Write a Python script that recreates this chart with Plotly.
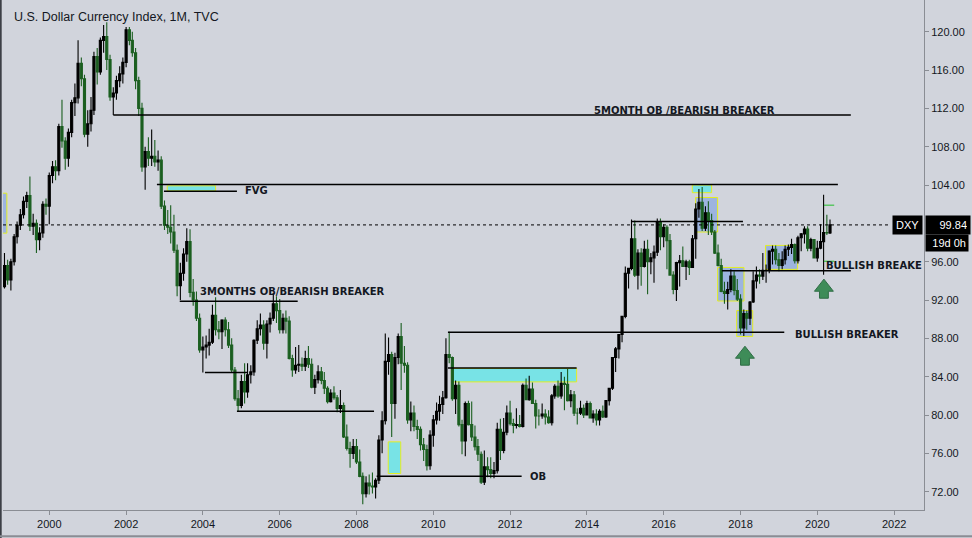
import pandas as pd
import plotly.graph_objects as go

# ---------------- DATA (monthly OHLC, Nov 1998 - May 2020) ----------------
opens = [
    93.4, 95.6,
    94.1, 96.0, 98.6, 99.8, 100.9, 102.3, 102.9, 99.7, 100.0, 98.3, 99.0, 102.0,
    101.8, 105.0, 105.9, 105.5, 110.1, 108.6, 106.8, 109.5, 112.6, 113.1, 116.7, 115.1,
    109.3, 110.4, 111.8, 117.4, 115.8, 119.1, 119.5, 117.1, 113.2, 113.6, 114.9, 115.6,
    116.8, 120.2, 119.1, 117.8, 114.9, 112.0, 105.9, 107.5, 106.8, 107.0, 106.4, 106.6,
    101.8, 99.8, 99.6, 99.1, 97.2, 93.5, 94.8, 96.8, 98.1, 92.8, 92.0, 90.1,
    86.8, 87.1, 87.3, 87.6, 90.4, 88.9, 88.7, 89.9, 88.9, 87.3, 84.7, 81.7,
    81.0, 83.5, 82.4, 84.2, 84.5, 87.8, 89.0, 89.4, 87.5, 89.5, 90.1, 91.6,
    90.9, 88.9, 90.1, 89.8, 85.9, 84.7, 85.2, 85.3, 85.1, 85.9, 85.3, 82.9,
    83.7, 84.5, 83.6, 82.8, 81.4, 82.3, 81.8, 80.7, 81.0, 77.7, 76.5, 76.0,
    76.7, 75.1, 73.6, 71.8, 72.9, 72.6, 72.5, 73.2, 77.4, 79.4, 85.6, 86.3,
    81.2, 86.0, 88.2, 85.4, 85.2, 79.5, 80.2, 78.8, 78.5, 76.9, 76.4, 74.7,
    77.9, 79.5, 80.4, 81.1, 81.8, 86.3, 86.0, 81.7, 83.1, 79.0, 77.3, 81.2,
    79.0, 77.7, 76.7, 75.9, 73.0, 74.6, 74.3, 73.9, 74.2, 78.5, 76.3, 78.2,
    80.2, 79.1, 78.9, 79.0, 78.8, 83.1, 81.6, 82.7, 81.2, 79.9, 79.9, 80.1,
    79.8, 79.2, 82.0, 83.0, 82.0, 83.3, 83.2, 81.5, 82.1, 80.2, 80.2, 80.7,
    80.0, 81.2, 79.7, 80.1, 79.5, 80.4, 79.8, 81.5, 82.8, 86.0, 86.9, 88.4,
    90.3, 94.8, 95.3, 98.4, 94.6, 96.9, 95.5, 97.3, 96.0, 96.4, 97.0, 100.2,
    98.6, 99.6, 98.2, 94.6, 93.1, 95.9, 96.1, 95.5, 96.0, 95.4, 98.4, 101.5,
    102.2, 99.5, 101.1, 100.3, 99.1, 96.9, 95.6, 92.9, 92.7, 93.1, 94.5, 93.0,
    92.1, 89.1, 90.6, 90.1, 91.8, 94.0, 94.6, 94.5, 95.1, 95.1, 97.1, 97.3,
    96.2, 95.6, 96.2, 97.3, 97.5, 97.8, 96.1, 98.5, 98.9, 99.4, 97.4, 98.3,
    96.4, 97.4, 98.1, 99.05, 99.0,
]
highs = [
    96.9, 96.2,
    96.3, 98.9, 100.2, 101.5, 102.8, 103.3, 104.9, 101.0, 100.4, 99.6, 102.3, 102.6,
    105.3, 106.5, 106.6, 110.4, 112.9, 109.0, 109.9, 112.9, 114.6, 119.1, 117.3, 115.5,
    111.8, 113.2, 117.9, 118.3, 119.4, 120.7, 121.0, 117.6, 114.2, 115.4, 116.4, 117.3,
    120.5, 120.5, 120.0, 118.3, 115.3, 112.6, 108.0, 109.0, 109.8, 108.7, 107.6, 107.0,
    102.4, 101.4, 101.9, 100.9, 97.8, 95.9, 97.4, 99.5, 99.4, 94.2, 92.9, 90.6,
    88.2, 88.3, 89.0, 91.5, 92.3, 89.8, 90.0, 90.2, 89.7, 88.0, 85.0, 82.6,
    84.2, 85.4, 85.4, 85.2, 87.9, 89.9, 90.6, 89.9, 89.9, 90.7, 92.7, 92.4,
    92.1, 90.6, 90.9, 90.3, 86.3, 87.1, 87.3, 86.0, 86.7, 87.2, 85.9, 84.2,
    85.2, 85.0, 84.5, 83.0, 82.7, 83.0, 82.1, 82.6, 81.3, 79.0, 77.2, 77.5,
    77.5, 76.4, 74.0, 73.6, 73.8, 74.0, 73.4, 77.9, 80.4, 88.5, 88.1, 86.6,
    86.5, 88.5, 89.6, 87.2, 85.5, 81.4, 81.0, 79.5, 78.8, 77.6, 76.9, 78.4,
    80.0, 81.3, 82.0, 82.5, 88.0, 88.7, 86.1, 83.6, 83.5, 79.5, 81.4, 81.5,
    81.4, 78.9, 77.5, 76.2, 76.3, 75.6, 75.6, 75.1, 79.2, 79.6, 79.7, 81.0,
    81.5, 79.6, 80.7, 80.0, 83.3, 83.8, 84.1, 83.4, 81.6, 80.6, 81.2, 80.6,
    80.5, 82.2, 83.2, 83.6, 84.5, 84.0, 84.8, 82.6, 82.5, 80.7, 81.5, 81.1,
    81.5, 81.4, 80.5, 80.6, 80.6, 81.0, 81.5, 82.8, 86.0, 87.1, 88.4, 90.3,
    95.5, 95.3, 100.4, 100.3, 97.3, 97.4, 98.2, 98.3, 96.9, 97.7, 100.5, 100.5,
    99.9, 99.8, 98.9, 95.0, 96.0, 96.7, 97.6, 96.2, 96.2, 98.8, 102.1, 103.6,
    103.8, 101.8, 102.3, 101.0, 99.3, 97.8, 96.3, 93.9, 93.9, 95.2, 95.0, 94.2,
    92.6, 91.0, 90.9, 91.9, 95.0, 95.5, 95.2, 96.9, 95.7, 97.2, 97.7, 97.7,
    96.9, 97.1, 97.7, 97.8, 98.4, 97.9, 98.7, 99.0, 99.7, 99.7, 98.5, 98.3,
    98.2, 99.9, 103.0, 100.9, 100.4,
]
lows = [
    93.2, 93.6,
    93.0, 95.6, 97.9, 99.3, 100.5, 101.6, 99.2, 98.8, 96.9, 97.2, 98.5, 100.9,
    99.9, 104.2, 104.5, 105.0, 107.9, 105.6, 105.9, 109.0, 111.2, 112.5, 114.3, 109.0,
    108.0, 109.6, 111.3, 114.5, 115.5, 117.8, 116.0, 112.8, 111.3, 112.9, 114.2, 114.6,
    116.3, 118.6, 117.4, 114.0, 111.2, 105.4, 103.5, 106.0, 106.0, 105.9, 105.5, 101.5,
    99.3, 98.9, 97.9, 96.9, 92.4, 92.0, 94.0, 96.0, 92.3, 91.4, 89.8, 86.5,
    84.45, 85.9, 86.2, 87.4, 88.3, 87.9, 86.9, 88.2, 87.0, 84.5, 81.5, 80.4,
    80.7, 81.2, 81.8, 83.3, 84.1, 87.4, 88.3, 86.8, 85.9, 88.6, 89.8, 89.6,
    88.5, 88.5, 88.5, 85.8, 84.0, 84.3, 84.5, 84.6, 84.6, 84.9, 82.8, 82.2,
    83.3, 83.2, 82.2, 81.2, 81.3, 81.6, 80.3, 80.2, 77.6, 76.3, 74.5, 75.4,
    74.9, 73.5, 70.7, 71.4, 71.7, 71.8, 71.3, 72.8, 76.0, 79.0, 84.2, 77.7,
    79.6, 85.3, 82.6, 84.4, 79.1, 78.3, 78.3, 77.5, 76.3, 75.2, 74.2, 74.3,
    76.7, 79.0, 79.4, 80.1, 81.7, 85.4, 81.5, 80.1, 78.8, 75.9, 75.7, 78.9,
    77.3, 76.3, 75.2, 72.8, 72.7, 73.5, 73.4, 73.4, 73.9, 75.3, 76.0, 77.9,
    78.9, 78.1, 78.6, 78.7, 78.7, 81.6, 81.5, 81.2, 78.6, 78.9, 79.6, 79.0,
    79.1, 78.9, 81.7, 81.8, 81.7, 80.5, 81.4, 80.8, 79.9, 79.0, 80.0, 79.7,
    80.0, 79.7, 79.2, 78.9, 78.9, 79.7, 79.7, 81.0, 82.6, 84.5, 85.9, 87.6,
    90.1, 93.2, 95.1, 94.4, 93.1, 93.5, 95.4, 92.6, 94.7, 93.8, 96.6, 97.2,
    97.5, 95.2, 94.6, 92.6, 91.9, 93.4, 95.5, 94.1, 94.6, 95.4, 96.3, 100.6,
    99.2, 99.2, 98.8, 98.8, 96.8, 95.5, 92.8, 91.6, 91.0, 92.8, 92.5, 91.9,
    88.4, 88.25, 88.9, 89.4, 91.7, 93.2, 93.7, 94.1, 93.8, 94.8, 95.7, 95.7,
    95.0, 95.2, 95.7, 96.6, 96.8, 95.8, 95.8, 97.1, 97.9, 97.1, 97.1, 96.4,
    96.0, 97.3, 94.65, 98.8, 98.9,
]
closes = [
    95.6, 94.1,
    96.0, 98.6, 99.8, 100.9, 102.3, 102.9, 99.7, 100.0, 98.3, 99.0, 102.0, 101.8,
    105.0, 105.9, 105.5, 110.1, 108.6, 106.8, 109.5, 112.6, 113.1, 116.7, 115.1, 109.3,
    110.4, 111.8, 117.4, 115.8, 119.1, 119.5, 117.1, 113.2, 113.6, 114.9, 115.6, 116.8,
    120.2, 119.1, 117.8, 114.9, 112.0, 105.9, 107.5, 106.8, 107.0, 106.4, 106.6, 101.8,
    99.8, 99.6, 99.1, 97.2, 93.5, 94.8, 96.8, 98.1, 92.8, 92.0, 90.1, 86.8,
    87.1, 87.3, 87.6, 90.4, 88.9, 88.7, 89.9, 88.9, 87.3, 84.7, 81.7, 81.0,
    83.5, 82.4, 84.2, 84.5, 87.8, 89.0, 89.4, 87.5, 89.5, 90.1, 91.6, 90.9,
    88.9, 90.1, 89.8, 85.9, 84.7, 85.2, 85.3, 85.1, 85.9, 85.3, 82.9, 83.7,
    84.5, 83.6, 82.8, 81.4, 82.3, 81.8, 80.7, 81.0, 77.7, 76.5, 76.0, 76.7,
    75.1, 73.6, 71.8, 72.9, 72.6, 72.5, 73.2, 77.4, 79.4, 85.6, 86.3, 81.2,
    86.0, 88.2, 85.4, 85.2, 79.5, 80.2, 78.8, 78.5, 76.9, 76.4, 74.7, 77.9,
    79.5, 80.4, 81.1, 81.8, 86.3, 86.0, 81.7, 83.1, 79.0, 77.3, 81.2, 79.0,
    77.7, 76.7, 75.9, 73.0, 74.6, 74.3, 73.9, 74.2, 78.5, 76.3, 78.2, 80.2,
    79.1, 78.9, 79.0, 78.8, 83.1, 81.6, 82.7, 81.2, 79.9, 79.9, 80.1, 79.8,
    79.2, 82.0, 83.0, 82.0, 83.3, 83.2, 81.5, 82.1, 80.2, 80.2, 80.7, 80.0,
    81.2, 79.7, 80.1, 79.5, 80.4, 79.8, 81.5, 82.8, 86.0, 86.9, 88.4, 90.3,
    94.8, 95.3, 98.4, 94.6, 96.9, 95.5, 97.3, 96.0, 96.4, 97.0, 100.2, 98.6,
    99.6, 98.2, 94.6, 93.1, 95.9, 96.1, 95.5, 96.0, 95.4, 98.4, 101.5, 102.2,
    99.5, 101.1, 100.3, 99.1, 96.9, 95.6, 92.9, 92.7, 93.1, 94.5, 93.0, 92.1,
    89.1, 90.6, 90.1, 91.8, 94.0, 94.6, 94.5, 95.1, 95.1, 97.1, 97.3, 96.2,
    95.6, 96.2, 97.3, 97.5, 97.8, 96.1, 98.5, 98.9, 99.4, 97.4, 98.3, 96.4,
    97.4, 98.1, 99.05, 99.0, 99.84,
]
first_month = "1998-11-01"
last_price = 99.84

y_ticks = [72, 76, 80, 84, 88, 92, 96, 104, 108, 112, 116, 120]

# drawn horizontal levels: (start, end, price)
level_lines = [
    ("2001-09-01", "2020-11-15", 111.3),   # 5 month OB
    ("2002-10-21", "2020-07-15", 104.06),  # top line
    ("2002-12-27", "2004-11-20", 103.36),  # FVG
    ("2003-05-26", "2006-06-21", 91.88),   # 3 months OB
    ("2004-01-21", "2005-02-24", 84.44),
    ("2004-11-20", "2008-06-16", 80.40),
    ("2008-07-11", "2012-04-20", 73.60),   # OB
    ("2010-05-20", "2013-09-25", 84.92),
    ("2010-05-20", "2019-02-21", 88.65),   # bullish breaker
    ("2015-02-24", "2018-01-24", 100.2),
    ("2017-07-08", "2020-11-15", 95.05),   # bullish breaker 2
]
# zones: (start, end, low, high, kind)
zones = [
    ("1998-06-01", "1998-11-24", 98.98, 103.15, "blue"),
    ("2003-01-27", "2004-05-01", 103.39, 103.92, "cyan"),
    ("2008-10-29", "2009-02-25", 73.9, 77.2, "cyan"),
    ("2010-06-24", "2013-09-25", 83.46, 84.86, "cyan"),
    ("2016-09-29", "2017-04-01", 103.2, 104.0, "cyan"),
    ("2016-10-31", "2017-05-28", 99.1, 102.7, "blue"),
    ("2017-05-28", "2018-02-03", 91.9, 95.4, "blue"),
    ("2017-11-25", "2018-04-27", 88.2, 90.9, "blue"),
    ("2018-08-27", "2019-06-28", 95.2, 97.7, "blue"),
]
# text labels: (date, price, text, anchor)
labels = [
    ("2016-07-15", 111.75, "5MONTH OB /BEARISH BREAKER", "center"),
    ("2005-01-15", 103.38, "FVG", "left"),
    ("2003-11-13", 92.85, "3MONTHS OB/BEARISH BREAKER", "left"),
    ("2012-06-19", 73.6, "OB", "left"),
    ("2019-05-11", 88.45, "BULLISH BREAKER", "left"),
]
# up arrows: (centre date, tip price, head base price, tail price)
arrows = [
    ("2018-02-12", 87.18, 85.93, 85.2),
    ("2020-03-04", 94.18, 92.92, 92.19),
]

# ---------------- FIGURE ----------------
UP = "#000000"
DOWN = "#1b5f20"
BG = "#d1d4dc"
TXT = "#131722"

dates = pd.date_range(first_month, periods=len(closes), freq="MS")

fig = go.Figure()
fig.add_trace(go.Candlestick(
    x=dates, open=opens, high=highs, low=lows, close=closes,
    increasing=dict(line=dict(color=UP, width=1.1), fillcolor=UP),
    decreasing=dict(line=dict(color=DOWN, width=1.1), fillcolor=DOWN),
    whiskerwidth=0, showlegend=False, hoverinfo="skip",
))

shapes = []
for x0, x1, lo, hi, kind in zones:
    fill = "#9db4df" if kind == "blue" else "#78e3e6"
    shapes.append(dict(type="rect", xref="x", yref="y", x0=x0, x1=x1, y0=lo, y1=hi,
                       fillcolor=fill, line=dict(color="#e3ee22", width=1), layer="below"))
for x0, x1, p in level_lines:
    shapes.append(dict(type="line", xref="x", yref="y", x0=x0, x1=x1, y0=p, y1=p,
                       line=dict(color="#000000", width=1.5)))
# current price dotted line
shapes.append(dict(type="line", xref="paper", yref="y", x0=0, x1=0.962, y0=last_price, y1=last_price,
                   line=dict(color="#000000", width=1, dash="dot")))
# small green markers near last candle
for p in (101.9, 96.05):
    shapes.append(dict(type="line", xref="x", yref="y", x0="2020-03-05", x1="2020-06-10", y0=p, y1=p,
                       line=dict(color="#22c02a", width=1)))
# window frame edges
shapes.append(dict(type="line", xref="paper", yref="paper", x0=-0.0025, x1=-0.0025, y0=-0.06, y1=1,
                   line=dict(color="#3c3f46", width=2)))
shapes.append(dict(type="line", xref="paper", yref="paper", x0=-0.004, x1=1.06, y0=-0.0515, y1=-0.0515,
                   line=dict(color="#8a8d94", width=2)))

# arrows as filled polygons
for c, tip, base, tail in arrows:
    cc = pd.Timestamp(c)
    hw = pd.Timedelta(days=90)
    sw = pd.Timedelta(days=42)
    xs = [cc, cc + hw, cc + sw, cc + sw, cc - sw, cc - sw, cc - hw, cc]
    ys = [tip, base, base, tail, tail, base, base, tip]
    fig.add_trace(go.Scatter(x=xs, y=ys, mode="lines", fill="toself",
                             fillcolor="#3e8c58", line=dict(color="#2f6d45", width=1),
                             showlegend=False, hoverinfo="skip"))

annotations = []
for d, p, t, anchor in labels:
    annotations.append(dict(x=d, y=p, xref="x", yref="y", text="<b>" + t + "</b>", showarrow=False,
                            xanchor=anchor, yanchor="middle",
                            font=dict(family="DejaVu Sans", size=10, color=TXT)))
annotations.append(dict(x=1.0, y=95.6, xref="paper", yref="y", text="<b>BULLISH BREAKE</b>",
                        showarrow=False, xanchor="right", yanchor="middle",
                        font=dict(family="DejaVu Sans", size=10, color=TXT)))
annotations.append(dict(x=0.0098, y=0.967, xref="paper", yref="paper",
                        text="U.S. Dollar Currency Index, 1M, TVC", showarrow=False,
                        xanchor="left", yanchor="middle",
                        font=dict(family="Liberation Sans", size=12.5, color=TXT)))
annotations.append(dict(x=0.9985, y=last_price, xref="paper", yref="y", text="DXY", showarrow=False,
                        xanchor="right", yanchor="middle", bgcolor="#000000", borderpad=3,
                        font=dict(family="Liberation Sans", size=11, color="#ffffff")))
annotations.append(dict(x=1.0015, y=last_price, xref="paper", yref="y", text="99.84", showarrow=False,
                        xanchor="left", yanchor="middle", bgcolor="#000000", borderpad=3,
                        width=38, align="right",
                        font=dict(family="Liberation Sans", size=11, color="#ffffff")))
annotations.append(dict(x=1.0015, y=97.93, xref="paper", yref="y", text="19d 0h", showarrow=False,
                        xanchor="left", yanchor="middle", bgcolor="#000000", borderpad=2,
                        width=38, align="right",
                        font=dict(family="Liberation Sans", size=11, color="#ffffff")))

fig.update_layout(
    width=972, height=538,
    margin=dict(l=3, r=48, t=0, b=28),
    paper_bgcolor=BG, plot_bgcolor=BG,
    shapes=shapes, annotations=annotations,
    showlegend=False,
    boxgap=0.0,
    xaxis=dict(
        range=["1998-10-18", "2022-10-12"],
        rangeslider=dict(visible=False),
        showgrid=False, zeroline=False,
        tickmode="linear", tick0="2000-01-01", dtick="M24", tickformat="%Y",
        ticks="outside", ticklen=4, tickcolor="#8a8d94",
        showline=True, linecolor="#8a8d94", linewidth=1,
        tickfont=dict(family="Liberation Sans", size=11, color=TXT),
    ),
    yaxis=dict(
        range=[70.09, 123.31], side="right",
        tickmode="array", tickvals=y_ticks, ticktext=[f"{v:.2f}" for v in y_ticks],
        showgrid=False, zeroline=False,
        ticks="outside", ticklen=4, tickcolor="#8a8d94",
        showline=True, linecolor="#8a8d94", linewidth=1,
        tickfont=dict(family="Liberation Sans", size=11, color=TXT),
    ),
)

fig.write_html(
    "out.html",
    config={"displayModeBar": False},
    post_script="document.body.style.margin='0px';document.body.style.padding='0px';",
)
